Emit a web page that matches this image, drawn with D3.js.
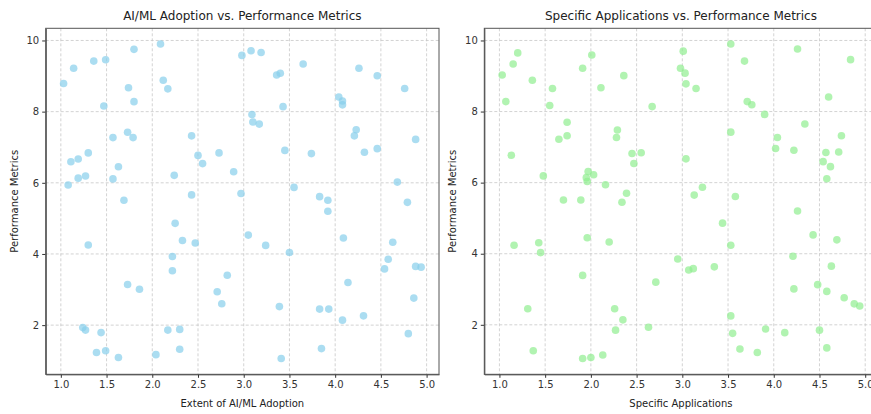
<!DOCTYPE html>
<html>
<head>
<meta charset="utf-8">
<script src="https://cdnjs.cloudflare.com/ajax/libs/d3/7.8.5/d3.min.js"></script>
<style>
  body { margin: 0; background: #fff; }
  #chart { width: 871px; height: 414px; overflow: hidden; }
  text { font-family: "DejaVu Sans", sans-serif; fill: #222; }
  .grid line { stroke: #c8c8c8; stroke-dasharray: 3,2; stroke-width: 0.8; }
  .axis path, .axis line { stroke: #333; }
  .axis text { font-size: 10px; fill: #333; }
</style>
</head>
<body>
<div id="chart"></div>
<script>
// left panel: extent of AI/ML adoption vs performance
let aiAdoption = [1.03,1.14,1.36,1.49,1.80,2.09,2.12,2.17,1.74,1.80,1.47,1.57,1.73,1.79,2.43,1.11,1.19,1.30,1.19,1.27,
  1.08,1.57,1.63,1.69,2.24,2.50,2.55,2.43,2.73,2.89,2.97,2.98,3.08,3.19,3.65,3.36,3.40,4.26,4.46,4.76,
  4.04,4.08,4.08,3.43,3.09,3.10,3.17,4.23,4.21,4.88,3.45,3.74,4.32,4.46,4.68,4.79,3.55,3.83,3.92,3.92,
  2.25,2.33,2.47,2.22,2.22,1.30,1.73,1.86,2.82,2.71,2.76,1.24,1.27,1.44,2.17,2.30,1.39,1.49,1.63,2.04,
  2.30,3.05,3.24,3.50,4.09,4.63,4.58,4.54,4.88,4.94,4.14,4.86,3.39,3.83,3.93,4.08,4.31,4.80,3.85,3.41];
let aiPerformance = [8.79,9.22,9.42,9.46,9.75,9.90,8.88,8.64,8.67,8.28,8.16,7.27,7.42,7.27,7.32,6.59,6.67,6.84,6.13,6.19,
  5.94,6.11,6.45,5.51,6.21,6.77,6.54,5.66,6.84,6.31,5.70,9.58,9.71,9.66,9.34,9.03,9.08,9.22,9.01,8.65,
  8.41,8.30,8.19,8.14,7.92,7.71,7.65,7.49,7.32,7.22,6.91,6.82,6.86,6.96,6.02,5.45,5.87,5.61,5.51,5.20,
  4.86,4.38,4.31,3.93,3.53,4.25,3.14,3.01,3.40,2.94,2.60,1.93,1.86,1.79,1.86,1.88,1.23,1.28,1.09,1.17,
  1.32,4.53,4.24,4.04,4.45,4.33,3.85,3.58,3.65,3.63,3.20,2.76,2.52,2.45,2.45,2.14,2.26,1.76,1.34,1.06];

// right panel: specific applications vs performance
let appSpecific = [1.03,1.07,1.15,1.20,1.13,1.36,1.58,1.55,1.74,1.65,1.74,1.48,1.70,1.89,1.91,2.01,2.11,2.36,2.29,2.28,
  2.45,2.55,2.47,1.97,1.95,1.96,2.03,2.16,2.39,2.34,2.67,3.01,2.98,3.03,3.04,3.15,3.53,3.68,4.26,4.84,
  3.71,3.76,3.90,4.60,4.34,3.53,4.04,4.02,4.22,4.74,4.57,4.71,4.54,4.62,4.58,3.04,3.22,3.13,3.58,4.26,
  1.16,1.43,1.45,1.96,2.20,1.91,2.71,1.31,2.26,2.35,2.27,2.63,1.37,1.91,2.00,2.13,3.44,3.53,2.95,3.07,
  3.12,3.35,4.43,4.69,4.21,4.63,4.22,4.48,4.58,4.77,4.88,4.94,3.53,3.55,3.91,4.12,4.50,3.63,3.82,4.58];
let appPerformance = [9.03,8.28,9.34,9.65,6.77,8.88,8.65,8.17,7.70,7.22,7.32,6.19,5.51,5.51,9.22,9.59,8.67,9.01,7.48,7.27,
  6.82,6.84,6.54,6.31,6.14,6.03,6.22,5.94,5.70,5.45,8.14,9.70,9.22,9.08,8.78,8.65,9.90,9.42,9.76,9.46,
  8.28,8.19,7.92,8.41,7.65,7.42,7.27,6.96,6.91,7.32,6.85,6.86,6.59,6.45,6.11,6.67,5.87,5.65,5.61,5.20,
  4.24,4.31,4.03,4.45,4.33,3.39,3.20,2.45,2.45,2.14,1.85,1.93,1.27,1.05,1.08,1.15,4.86,4.24,3.85,3.54,
  3.58,3.63,4.53,4.39,3.93,3.65,3.01,3.13,2.94,2.76,2.59,2.53,2.25,1.76,1.88,1.78,1.85,1.32,1.22,1.35];

let xTicks = [1.0,1.5,2.0,2.5,3.0,3.5,4.0,4.5,5.0];
let yTicks = [2,4,6,8,10];

let W = 871, H = 414;
let svg = d3.select('#chart').append('svg')
  .attr('width', W)
  .attr('height', H);

// matplotlib style 5% margins
function padded(vals) {
  let e = d3.extent(vals);
  let m = (e[1] - e[0]) * 0.05;
  return [e[0] - m, e[1] + m];
}

function panel(left, xs, ys, color, title, xlabel) {
  let top = 28.3, bottom = 374.3, pw = 393.3;
  let g = svg.append('g');

  let x = d3.scaleLinear().domain(padded(xs)).range([left, left + pw]);
  let y = d3.scaleLinear().domain(padded(ys)).range([bottom, top]);

  // grid
  let grid = g.append('g').attr('class', 'grid');
  grid.selectAll('.gx').data(xTicks).enter().append('line')
    .attr('x1', d => x(d)).attr('x2', d => x(d))
    .attr('y1', top).attr('y2', bottom);
  grid.selectAll('.gy').data(yTicks).enter().append('line')
    .attr('x1', left).attr('x2', left + pw)
    .attr('y1', d => y(d)).attr('y2', d => y(d));

  // points
  g.selectAll('.pt').data(xs.map((v, i) => [v, ys[i]])).enter()
    .append('circle').classed('pt', true)
    .attr('cx', d => x(d[0]))
    .attr('cy', d => y(d[1]))
    .attr('r', 3.8)
    .attr('fill', color)
    .attr('fill-opacity', 0.7);

  // axes
  g.append('g').attr('class', 'axis')
    .attr('transform', 'translate(0,' + bottom + ')')
    .call(d3.axisBottom(x).tickValues(xTicks).tickFormat(d3.format('.1f')).tickSize(3.5).tickSizeOuter(0).tickPadding(3));
  g.append('g').attr('class', 'axis')
    .attr('transform', 'translate(' + left + ',0)')
    .call(d3.axisLeft(y).tickValues(yTicks).tickFormat(d3.format('d')).tickSize(3.5).tickSizeOuter(0).tickPadding(3));

  // top/right spines
  g.append('rect')
    .attr('x', left).attr('y', top)
    .attr('width', pw).attr('height', bottom - top)
    .attr('fill', 'none').attr('stroke', '#555').attr('stroke-width', 1);

  g.append('text')
    .attr('x', left + pw / 2).attr('y', 20)
    .attr('text-anchor', 'middle')
    .style('font-size', '12px')
    .text(title);

  g.append('text')
    .attr('x', left + pw / 2).attr('y', 407)
    .attr('text-anchor', 'middle')
    .style('font-size', '10px')
    .text(xlabel);

  g.append('text')
    .attr('transform', 'translate(' + (left - 28) + ',' + ((top + bottom) / 2) + ') rotate(-90)')
    .attr('text-anchor', 'middle')
    .style('font-size', '10px')
    .text('Performance Metrics');
}

panel(45.7, aiAdoption, aiPerformance, '#87CEEB', 'AI/ML Adoption vs. Performance Metrics', 'Extent of AI/ML Adoption');
panel(484.3, appSpecific, appPerformance, '#90EE90', 'Specific Applications vs. Performance Metrics', 'Specific Applications');
</script>
</body>
</html>
